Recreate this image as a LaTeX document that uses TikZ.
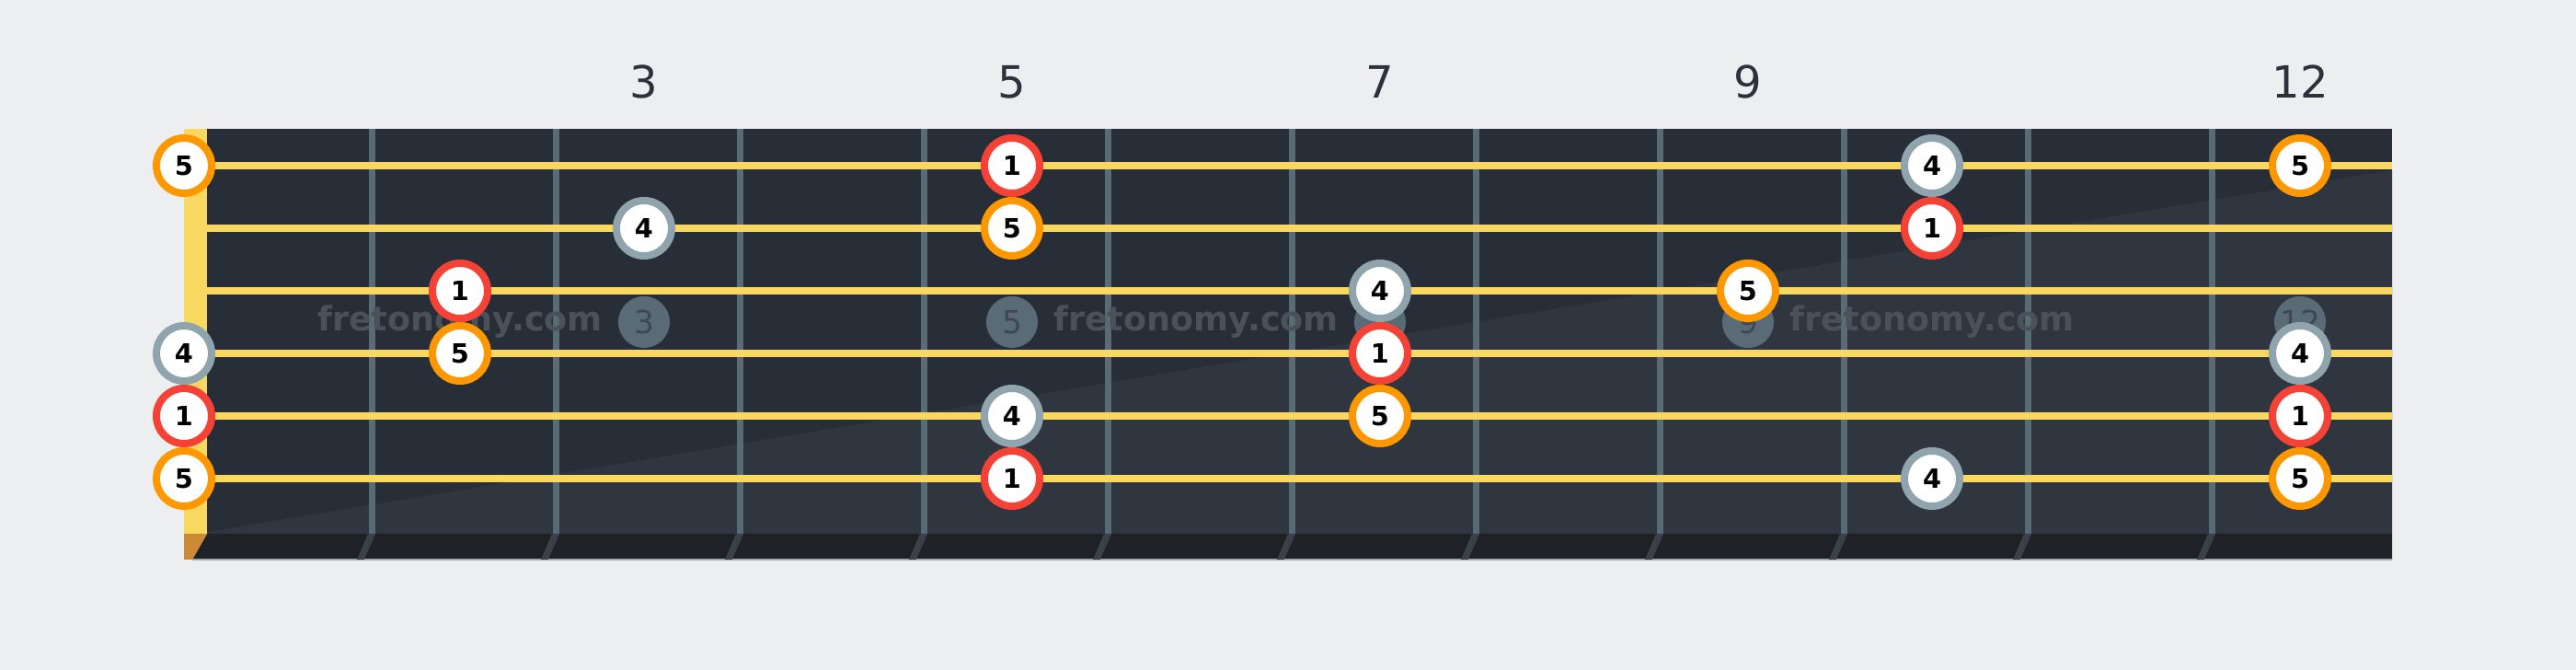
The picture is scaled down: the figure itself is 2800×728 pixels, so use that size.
\documentclass[tikz,border=0pt]{standalone}
\usepackage{fontspec}
\setmainfont{DejaVu Sans}
\usepackage{tikz}
\usepackage{xcolor}

\definecolor{bg}{HTML}{EDEEF0}
\definecolor{board}{HTML}{282E37}
\definecolor{boardlight}{HTML}{30363F}
\definecolor{strip}{HTML}{1F2328}
\definecolor{nutcol}{HTML}{F9D862}
\definecolor{nutend}{HTML}{CD8A35}
\definecolor{fretcol}{HTML}{5A6B78}
\definecolor{fretshade}{HTML}{3B4149}
\definecolor{root}{HTML}{F44336}
\definecolor{fifth}{HTML}{FF9800}
\definecolor{fourth}{HTML}{90A4AE}
\definecolor{wmark}{HTML}{4B5159}
\definecolor{dotnum}{HTML}{3F4852}
\definecolor{numcol}{HTML}{2B323B}

\begin{document}
\begin{tikzpicture}[x=0.1mm, y=-0.1mm,
    note/.style={circle, draw, fill=white, line width=0.8mm, minimum size=6mm,
                 inner sep=0pt, font=\fontsize{8.2}{9}\selectfont\bfseries},
    inlay/.style={circle, fill=fretcol, minimum size=5.6mm, inner sep=0pt,
                  text=dotnum, font=\fontsize{9.8}{11}\selectfont},
    fretnum/.style={text=numcol, font=\fontsize{13.7}{15}\selectfont},
    wm/.style={text=wmark, font=\fontsize{10.4}{12}\selectfont\bfseries},
    guitarstring/.style={nutcol, line width=0.8mm}]

    \useasboundingbox[fill=bg] (0,0) rectangle (2800,728);

    % fretboard
    \fill[board] (225,140) rectangle (2600,580);
    \fill[boardlight] (225,578) -- (2600,185) -- (2600,580) -- (225,580) -- cycle;
    \fill[strip] (225,580) -- (2600,580) -- (2600,608) -- (209,608) -- cycle;
    \draw[gray!70, line width=0.2mm] (209,608) -- (2600,608);
    \fill[nutcol] (200,140) rectangle (225,580);
    \fill[nutend] (200,580) -- (225,580) -- (209,608) -- (200,608) -- cycle;

    % frets
    \foreach \n in {1,...,11} {
        \fill[fretcol] ({204+200*\n-3.5},140) rectangle ({204+200*\n+3.5},580);
        \fill[fretshade] ({204+200*\n-4},580) -- ({204+200*\n+4},580)
            -- ({204+200*\n-8},608) -- ({204+200*\n-16},608) -- cycle;
    }

    % inlays and watermark
    \foreach \f in {3,5,7,9,12}
        \node[inlay] (dot\f) at (200*\f+100,350) {\f};
    \foreach \x [count=\i] in {500,1300,2100}
        \node[wm] (wm\i) at (\x,350) {fretonomy.com};

    % strings
    \foreach \s in {1,...,6}
        \draw[guitarstring] (225,{180+68*(\s-1)}) -- (2600,{180+68*(\s-1)});

    % notes
    \foreach \s/\f/\d/\c in {1/0/5/fifth, 1/5/1/root, 1/10/4/fourth, 1/12/5/fifth,
                             2/3/4/fourth, 2/5/5/fifth, 2/10/1/root,
                             3/2/1/root, 3/7/4/fourth, 3/9/5/fifth,
                             4/0/4/fourth, 4/2/5/fifth, 4/7/1/root, 4/12/4/fourth,
                             5/0/1/root, 5/5/4/fourth, 5/7/5/fifth, 5/12/1/root,
                             6/0/5/fifth, 6/5/1/root, 6/10/4/fourth, 6/12/5/fifth}
        \node[note, draw=\c] (n\s-\f) at ({ifthenelse(\f==0,200,200*\f+100)},{180+68*(\s-1)}) {\d};

    % fret numbers
    \foreach \f in {3,5,7,9,12}
        \node[fretnum] (num\f) at (200*\f+100,89) {\f};
\end{tikzpicture}
\end{document}
